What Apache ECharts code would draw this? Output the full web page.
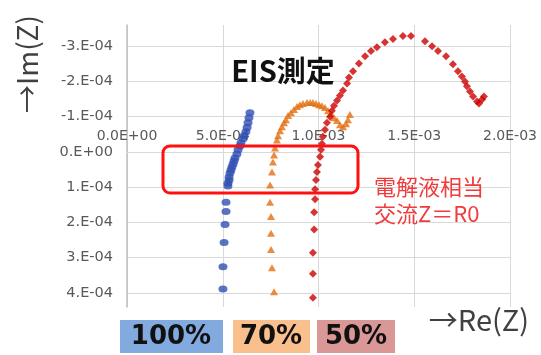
<!DOCTYPE html>
<html>
<head>
<meta charset="utf-8">
<script src="https://cdn.jsdelivr.net/npm/echarts@6/dist/echarts.min.js"></script>
<style>
  html, body { margin: 0; padding: 0; background: #ffffff; }
  #chart { width: 541px; height: 355px; }
</style>
</head>
<body>
<div id="chart"></div>
<script>
// Nyquist plot (EIS) for three electrolyte ratios. Re(Z) on x, Im(Z) on y (y axis reversed).

// 100 % : [Re(Z), Im(Z)]
const re100 = [6.42e-4, 6.37e-4, 6.32e-4, 6.27e-4, 6.21e-4, 6.11e-4, 6.06e-4, 5.95e-4, 5.90e-4, 5.80e-4,
               5.74e-4, 5.64e-4, 5.59e-4, 5.54e-4, 5.48e-4, 5.43e-4, 5.38e-4, 5.33e-4, 5.33e-4, 5.27e-4,
               5.27e-4, 5.17e-4, 5.17e-4, 5.12e-4, 5.07e-4, 5.01e-4, 5.01e-4];
const im100 = [-1.11e-4, -0.97e-4, -0.83e-4, -0.69e-4, -0.57e-4, -0.46e-4, -0.37e-4, -0.26e-4, -0.17e-4, -0.06e-4,
               0.06e-4, 0.17e-4, 0.26e-4, 0.34e-4, 0.43e-4, 0.51e-4, 0.60e-4, 0.71e-4, 0.80e-4, 0.89e-4,
               0.97e-4, 1.43e-4, 1.69e-4, 2.06e-4, 2.57e-4, 3.26e-4, 3.89e-4];

// 70 %
const re70 = [7.68e-4, 7.57e-4, 7.52e-4, 7.52e-4, 7.52e-4, 7.47e-4, 7.47e-4, 7.57e-4, 7.62e-4, 7.68e-4,
              7.73e-4, 7.83e-4, 7.89e-4, 7.99e-4, 8.09e-4, 8.20e-4, 8.30e-4, 8.41e-4, 8.56e-4, 8.72e-4,
              8.88e-4, 9.03e-4, 9.19e-4, 9.40e-4, 9.56e-4, 9.71e-4, 9.87e-4, 10.03e-4, 10.18e-4, 10.34e-4,
              10.50e-4, 10.65e-4, 10.81e-4, 10.97e-4, 11.12e-4, 11.28e-4, 11.44e-4, 11.54e-4, 11.64e-4];
const im70 = [3.97e-4, 3.29e-4, 2.77e-4, 2.31e-4, 1.83e-4, 1.43e-4, 0.94e-4, 0.57e-4, 0.29e-4, 0.09e-4,
              -0.11e-4, -0.34e-4, -0.46e-4, -0.60e-4, -0.71e-4, -0.83e-4, -0.91e-4, -1.03e-4, -1.11e-4, -1.20e-4,
              -1.29e-4, -1.34e-4, -1.37e-4, -1.40e-4, -1.40e-4, -1.40e-4, -1.37e-4, -1.34e-4, -1.31e-4, -1.26e-4,
              -1.17e-4, -1.09e-4, -0.97e-4, -0.89e-4, -0.77e-4, -0.71e-4, -0.80e-4, -0.91e-4, -1.06e-4];

// 50 %
const re50 = [9.71e-4, 9.71e-4, 9.71e-4, 9.77e-4, 9.77e-4, 9.82e-4, 9.82e-4, 9.87e-4, 9.92e-4, 9.97e-4,
              10.08e-4, 10.13e-4, 10.18e-4, 10.23e-4, 10.34e-4, 10.44e-4, 10.60e-4, 10.70e-4, 10.81e-4, 10.97e-4,
              11.12e-4, 11.28e-4, 11.49e-4, 11.59e-4, 11.80e-4, 12.11e-4, 12.43e-4, 12.74e-4, 13.05e-4, 13.47e-4,
              13.89e-4, 14.41e-4, 14.83e-4, 15.56e-4, 15.93e-4, 16.24e-4, 16.66e-4, 17.02e-4, 17.28e-4, 17.49e-4,
              17.65e-4, 17.75e-4, 17.91e-4, 18.07e-4, 18.28e-4, 18.38e-4, 18.54e-4, 18.64e-4];
const im50 = [4.14e-4, 3.46e-4, 2.86e-4, 2.20e-4, 1.71e-4, 1.34e-4, 1.06e-4, 0.80e-4, 0.57e-4, 0.37e-4,
              0.14e-4, -0.06e-4, -0.23e-4, -0.43e-4, -0.63e-4, -0.83e-4, -1.00e-4, -1.17e-4, -1.31e-4, -1.46e-4,
              -1.60e-4, -1.74e-4, -1.94e-4, -2.11e-4, -2.29e-4, -2.51e-4, -2.71e-4, -2.86e-4, -2.97e-4, -3.11e-4,
              -3.20e-4, -3.29e-4, -3.29e-4, -3.14e-4, -3.00e-4, -2.86e-4, -2.71e-4, -2.49e-4, -2.29e-4, -2.14e-4,
              -2.00e-4, -1.86e-4, -1.71e-4, -1.57e-4, -1.43e-4, -1.37e-4, -1.49e-4, -1.57e-4];

// Axis ticks and ranges
const xTicks = [0, 5e-4, 1e-3, 1.5e-3, 2e-3];
const yTicks = [-3e-4, -2e-4, -1e-4, 0, 1e-4, 2e-4, 3e-4, 4e-4];
const yRange = [-3.6e-4, 4.4e-4];

const seriesNames = ['100%', '70%', '50%'];
const boxLabels = ['100%', '70%', '50%'];
const titleText = 'EIS測定';
const noteLines = ['電解液相当', '交流Z＝R0'];

function zip(a, b) { return a.map((v, i) => [v, b[i]]); }

function sciParts(v) {
  if (v === 0) return { m: 0, e: 0 };
  const e = Math.floor(Math.log10(Math.abs(v)) + 1e-9);
  return { m: v / Math.pow(10, e), e: e };
}
function expStr(e) {
  const s = e < 0 ? '-' : '+';
  const a = Math.abs(e);
  return s + (a < 10 ? '0' + a : '' + a);
}
function fmtX(v) {
  const p = sciParts(v);
  return (Math.round(p.m * 10) / 10).toFixed(1) + 'E' + expStr(p.e);
}
function fmtY(v) {
  const p = sciParts(v);
  return Math.round(p.m) + '.E' + expStr(p.e);
}

const grid = { left: 127, right: 31, top: 25, bottom: 48 };
const plotH = 355 - grid.top - grid.bottom;
// the Re(Z) axis sits on the Im(Z) = 0 line: shift it down from the top edge
const xAxisShift = (0 - yRange[0]) / (yRange[1] - yRange[0]) * plotH;

const chart = echarts.init(document.getElementById('chart'), null, { renderer: 'canvas' });

const gridCol = '#d9d9d9';
const tickFont = 'DejaVu Sans';
const cjk = '"Noto Sans CJK JP", "Noto Sans", sans-serif';

chart.setOption({
  animation: false,
  backgroundColor: '#ffffff',
  grid: grid,
  xAxis: {
    type: 'value',
    position: 'top',
    offset: -xAxisShift,
    min: xTicks[0],
    max: xTicks[xTicks.length - 1],
    interval: xTicks[1] - xTicks[0],
    axisLine: { show: true, onZero: false, lineStyle: { color: gridCol, width: 1 } },
    axisTick: { show: false },
    splitLine: { show: true, lineStyle: { color: gridCol, width: 1 } },
    axisLabel: { formatter: fmtX, color: '#595959', fontSize: 14, fontFamily: tickFont, margin: 9 }
  },
  yAxis: {
    type: 'value',
    inverse: true,
    min: yRange[0],
    max: yRange[1],
    axisLine: { show: true, onZero: false, lineStyle: { color: '#bfbfbf', width: 1.5 } },
    axisTick: { show: false, customValues: yTicks },
    splitLine: { show: true, lineStyle: { color: gridCol, width: 1 } },
    axisLabel: { customValues: yTicks, formatter: fmtY, color: '#595959', fontSize: 14.5, fontFamily: tickFont, margin: 14 }
  },
  series: [
    {
      name: seriesNames[0], type: 'scatter', data: zip(re100, im100),
      symbol: 'circle', symbolSize: [9, 7],
      itemStyle: { color: '#2f4fb3' }, z: 3
    },
    {
      name: seriesNames[1], type: 'scatter', data: zip(re70, im70),
      symbol: 'triangle', symbolSize: [8, 7],
      itemStyle: { color: '#e46f12' }, z: 3
    },
    {
      name: seriesNames[2], type: 'scatter', data: zip(re50, im50),
      symbol: 'diamond', symbolSize: [8, 8],
      itemStyle: { color: '#cc0000' }, z: 3
    }
  ],
  graphic: [
    // chart title inside the plot
    { type: 'text', x: 283, y: 71, z: 10,
      style: { text: titleText, font: 'bold 29px ' + cjk, fill: '#111111', align: 'center', verticalAlign: 'middle' } },
    // axis titles
    { type: 'text', x: 27, y: 64, rotation: Math.PI / 2, z: 10,
      style: { text: '→Im(Z)', font: '28px ' + cjk, fill: '#404040', align: 'center', verticalAlign: 'middle' } },
    { type: 'text', x: 479, y: 320, z: 10,
      style: { text: '→Re(Z)', font: '29px ' + cjk, fill: '#404040', align: 'center', verticalAlign: 'middle' } },
    // highlight box around the real-axis intercepts
    { type: 'rect', z: 20, shape: { x: 163, y: 146, width: 195, height: 47, r: 7 },
      style: { fill: 'none', stroke: '#ff1010', lineWidth: 3 } },
    { type: 'text', x: 374, y: 187, z: 10,
      style: { text: noteLines[0], font: '22px ' + cjk, fill: '#f03c3c', align: 'left', verticalAlign: 'middle' } },
    { type: 'text', x: 374, y: 214, z: 10,
      style: { text: noteLines[1], font: '22px ' + cjk, fill: '#f03c3c', align: 'left', verticalAlign: 'middle' } },
    // ratio labels below the plot
    { type: 'rect', z: 5, shape: { x: 120, y: 320, width: 103, height: 33 }, style: { fill: '#82aade' } },
    { type: 'rect', z: 5, shape: { x: 233, y: 320, width: 77, height: 33 }, style: { fill: '#f9bf8c' } },
    { type: 'rect', z: 5, shape: { x: 317, y: 320, width: 78, height: 33 }, style: { fill: '#d99896' } },
    { type: 'text', x: 171, y: 337, z: 10,
      style: { text: boxLabels[0], font: 'bold 26px "DejaVu Sans", sans-serif', fill: '#111111', align: 'center', verticalAlign: 'middle' } },
    { type: 'text', x: 271, y: 337, z: 10,
      style: { text: boxLabels[1], font: 'bold 26px "DejaVu Sans", sans-serif', fill: '#111111', align: 'center', verticalAlign: 'middle' } },
    { type: 'text', x: 356, y: 337, z: 10,
      style: { text: boxLabels[2], font: 'bold 26px "DejaVu Sans", sans-serif', fill: '#111111', align: 'center', verticalAlign: 'middle' } }
  ]
});
</script>
</body>
</html>
